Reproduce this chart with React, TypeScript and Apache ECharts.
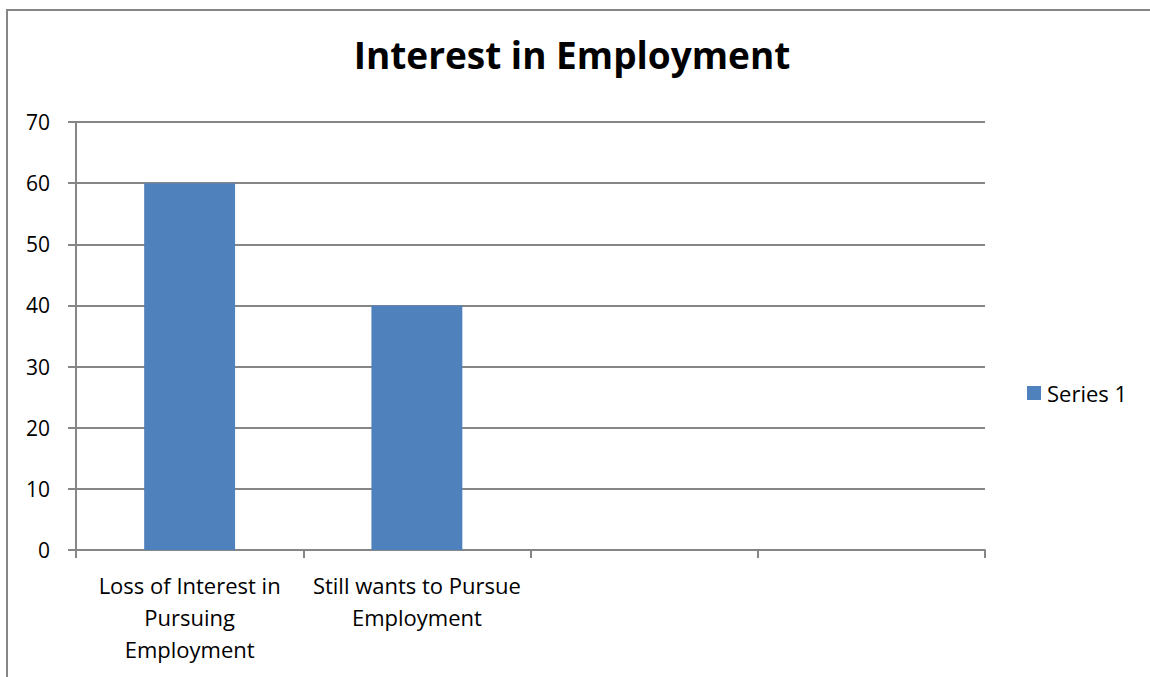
import React, { useEffect, useRef } from "react";
import * as echarts from "echarts";

const title = "Interest in Employment";
const categories = [
  "Loss of Interest in\nPursuing\nEmployment",
  "Still wants to Pursue\nEmployment",
  "",
  "",
];
const seriesName = "Series 1";
const seriesValues = [60, 40, null, null];
const yMin = 0;
const yMax = 70;
const yInterval = 10;

export default function App() {
  const ref = useRef<HTMLDivElement>(null);
  useEffect(() => {
    if (!ref.current) return;
    const chart = echarts.init(ref.current, null, { renderer: "svg" });
    const font = "'Open Sans', sans-serif";
    chart.setOption({
      animation: false,
      backgroundColor: "#ffffff",
      textStyle: { fontFamily: font },
      title: {
        text: title,
        left: 567,
        textAlign: "center",
        top: 31,
        textStyle: { fontFamily: font, fontSize: 37, fontWeight: "bold", color: "#000" },
      },
      legend: {
        left: 1027,
        top: 382,
        padding: 0,
        itemWidth: 14,
        itemHeight: 14,
        icon: "rect",
        textStyle: { fontFamily: font, fontSize: 22, color: "#000", padding: [0, 0, 0, 1] },
        data: [seriesName],
      },
      graphic: [
        {
          type: "rect",
          shape: { x: 7, y: 10, width: 1200, height: 720 },
          style: { fill: "none", stroke: "#868686", lineWidth: 2 },
          silent: true,
        },
      ],
      grid: { left: 76, right: 165, top: 122, bottom: 127, containLabel: false },
      xAxis: {
        type: "category",
        data: categories,
        boundaryGap: true,
        axisLine: { lineStyle: { color: "#868686", width: 2 } },
        axisTick: { show: true, length: 8, alignWithLabel: false, lineStyle: { color: "#868686", width: 2 } },
        axisLabel: {
          interval: 0,
          color: "#000",
          fontFamily: font,
          fontSize: 22,
          lineHeight: 32,
          margin: 19,
          align: "center",
        },
        splitLine: { show: false },
      },
      yAxis: {
        type: "value",
        min: yMin,
        max: yMax,
        interval: yInterval,
        axisLine: { show: true, lineStyle: { color: "#868686", width: 2 } },
        axisTick: { show: true, length: 8, lineStyle: { color: "#868686", width: 2 } },
        axisLabel: { color: "#000", fontFamily: font, fontSize: 21, margin: 26 },
        splitLine: { show: true, lineStyle: { color: "#868686", width: 2 } },
      },
      series: [
        {
          name: seriesName,
          type: "bar",
          data: seriesValues,
          barWidth: "40%",
          itemStyle: { color: "#4F81BD" },
        },
      ],
    });
    return () => chart.dispose();
  }, []);
  return (
    <div
      ref={ref}
      style={{ position: "fixed", left: 0, top: 0, width: 1150, height: 677 }}
    />
  );
}
